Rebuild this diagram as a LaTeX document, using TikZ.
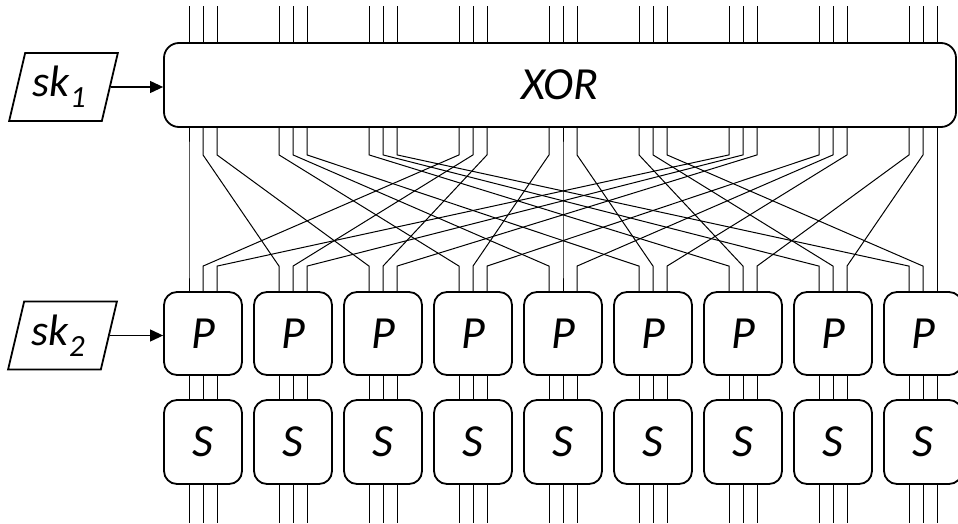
\documentclass[tikz,border=0pt]{standalone}
\usepackage{fontspec}
\setmainfont{Carlito}
\usetikzlibrary{shapes.geometric,arrows.meta,calc}

\begin{document}
\begin{tikzpicture}[x=1pt,y=-1pt,
  box/.style={draw,line width=1.8pt,rounded corners=13pt,minimum width=78pt,
    minimum height=83pt,inner sep=0pt,font=\fontsize{46}{50}\selectfont\itshape},
  wire/.style={line width=1pt},
  keybox/.style={draw,line width=1.8pt,trapezium,trapezium left angle=73,
    trapezium right angle=107,trapezium stretches=true,minimum width=109pt,
    minimum height=68pt,inner sep=0pt,font=\fontsize{44}{50}\selectfont\itshape},
  feed/.style={line width=1.1pt,-{Triangle[length=13pt,width=12pt]}}
]
\path[use as bounding box,clip] (0,0) rectangle (958,524);

% round-key XOR layer
\node[box,rounded corners=15pt,minimum width=792pt,minimum height=84pt] (xor) at (560,85) {XOR};

% P and S boxes
\foreach \i in {0,...,8}{
  \node[box] (p\i) at ({203+90*\i},333.5) {P};
  \node[box,minimum height=84pt] (s\i) at ({203+90*\i},442) {S};
}

% key inputs (text nudged a little to the left inside the slanted box)
\node[keybox] (sk1) at (63.5,87) {sk\textsubscript{1}\kern8pt};
\node[keybox] (sk2) at (62.5,335.5) {sk\textsubscript{2}\kern8pt};
\draw[feed] (sk1.east) -- (sk1.east -| xor.west);
\draw[feed] (sk2.east) -- (sk2.east -| p0.west);

% straight three-bit buses
\foreach \i in {0,...,8}{
  \foreach \d in {-14,0,14}{
    \draw[wire] ($(xor.north -| p\i)+(\d,0)$) -- ++(0,-36);
    \draw[wire] ($(p\i.south)+(\d,0)$) -- ($(s\i.north)+(\d,0)$);
    \draw[wire] ($(s\i.south)+(\d,0)$) -- ++(0,38);
  }
}

% bit permutation: wire k goes to position 3k mod 26
\foreach \k in {0,...,26}{
  \pgfmathtruncatemacro\sb{int(\k/3)}
  \pgfmathtruncatemacro\sof{14*(mod(\k,3)-1)}
  \pgfmathtruncatemacro\tgt{\k==26 ? 26 : mod(3*\k,26)}
  \pgfmathtruncatemacro\tb{int(\tgt/3)}
  \pgfmathtruncatemacro\dof{14*(mod(\tgt,3)-1)}
  \draw[wire] ($(xor.south -| p\sb)+(\sof,0)$) -- ++(0,27)
    -- ($(p\tb.north)+(\dof,-25)$) -- ($(p\tb.north)+(\dof,0)$);
}
\end{tikzpicture}
\end{document}
